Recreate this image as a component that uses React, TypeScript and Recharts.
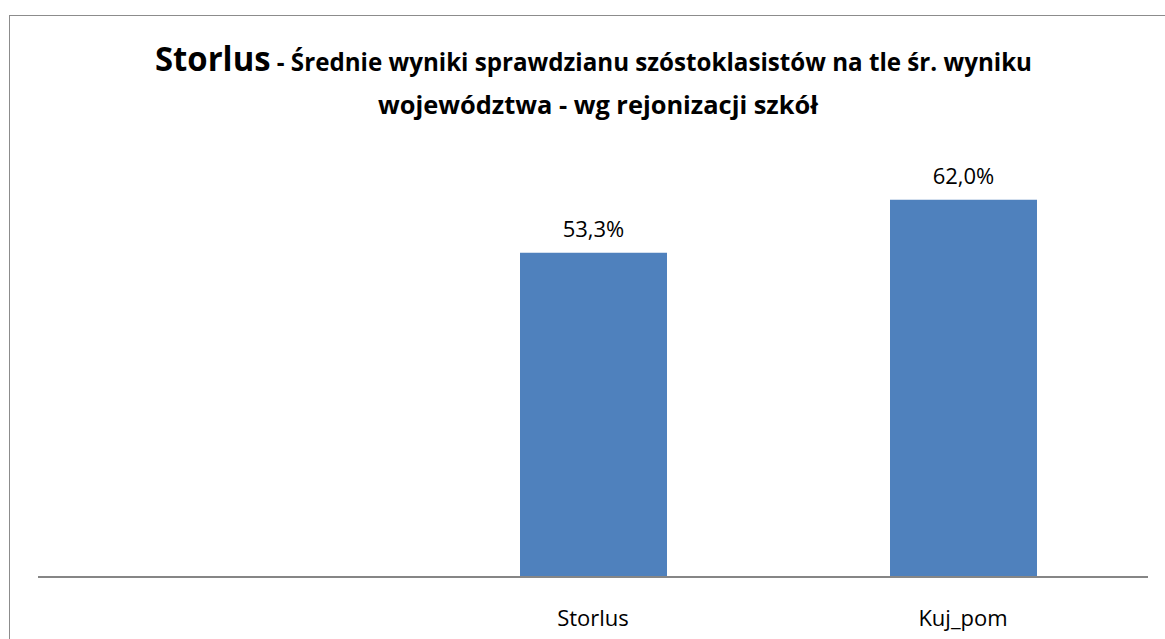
import { BarChart, Bar, XAxis, YAxis, LabelList } from "recharts";

const categories = ["", "Storlus", "Kuj_pom"];
const scores: (number | null)[] = [null, 53.3, 62.0];
const titleMain = "Storlus";
const titleRest = " - Średnie wyniki sprawdzianu szóstoklasistów na tle śr. wyniku";
const titleLine2 = "województwa - wg rejonizacji szkół";

const data = categories.map((name, i) => ({ name, value: scores[i] }));

const formatPct = (v: any) =>
  v == null ? "" : `${Number(v).toFixed(1).replace(".", ",")}%`;

export default function App() {
  return (
    <div
      style={{
        position: "absolute",
        left: 0,
        top: 0,
        width: 1165,
        height: 639,
        overflow: "hidden",
        background: "#fff",
      }}
    >
      <div
        style={{
          position: "absolute",
          left: 9,
          top: 15,
          width: 1200,
          height: 700,
          border: "1.5px solid #8c8c8c",
        }}
      />
      <svg
        width={1165}
        height={130}
        style={{ position: "absolute", left: 0, top: 0 }}
        fontFamily="'Open Sans', sans-serif"
        fontWeight="bold"
        fill="#000"
      >
        <text x={155} y={71} textLength={877} lengthAdjust="spacingAndGlyphs">
          <tspan fontSize={34}>{titleMain}</tspan>
          <tspan fontSize={25}>{titleRest}</tspan>
        </text>
        <text
          x={378}
          y={114}
          fontSize={25}
          textLength={440}
          lengthAdjust="spacingAndGlyphs"
        >
          {titleLine2}
        </text>
      </svg>
      <div style={{ position: "absolute", left: 0, top: 0 }}>
        <BarChart
          width={1165}
          height={639}
          data={data}
          margin={{ top: 151, right: 17, bottom: 0, left: 38 }}
        >
          <YAxis hide domain={[0, 70]} />
          <XAxis
            dataKey="name"
            height={62}
            axisLine={{ stroke: "#868686", strokeWidth: 2 }}
            tickLine={false}
            tickMargin={27}
            tick={{ fill: "#000", fontSize: 22, fontFamily: "Open Sans" }}
          />
          <Bar
            dataKey="value"
            fill="#4F81BD"
            barSize={147}
            isAnimationActive={false}
          >
            <LabelList
              dataKey="value"
              position="top"
              offset={16}
              formatter={formatPct}
              fill="#000"
              fontSize={22}
              fontFamily="Open Sans"
            />
          </Bar>
        </BarChart>
      </div>
    </div>
  );
}
